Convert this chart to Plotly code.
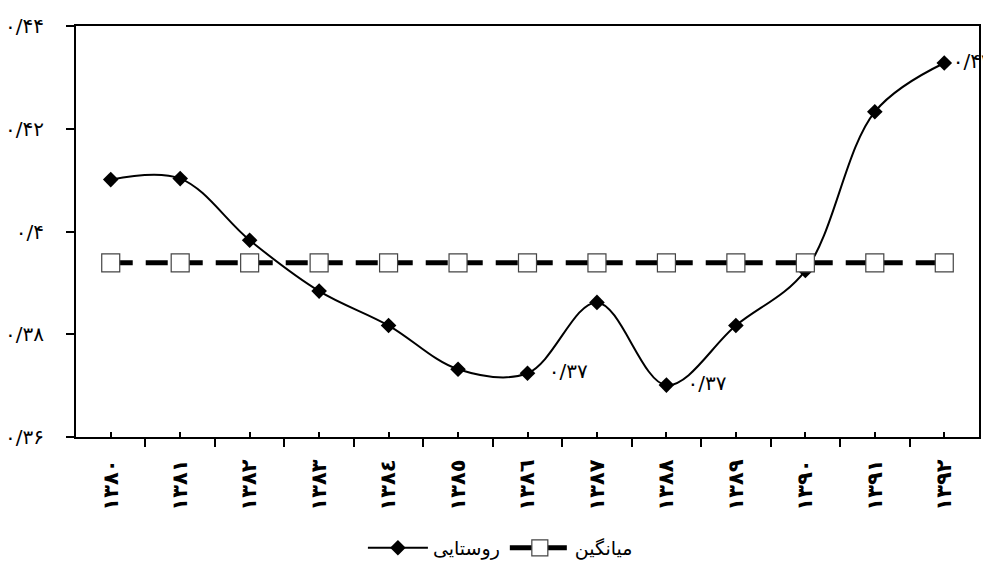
import plotly.graph_objects as go

# Data
years = ["١٣٨٠", "١٣٨١", "١٣٨٢", "١٣٨٣", "١٣٨٤", "١٣٨٥", "١٣٨٦",
         "١٣٨٧", "١٣٨٨", "١٣٨٩", "١٣٩٠", "١٣٩١", "١٣٩٢"]
rural = [0.4101, 0.4103, 0.3983, 0.3884, 0.3817, 0.3732, 0.3724,
         0.3862, 0.3701, 0.3817, 0.3924, 0.4233, 0.4328]
mean_vals = [0.3939] * 13
point_labels = ["", "", "", "", "", "", "۰/۳۷", "", "۰/۳۷", "", "", "", "۰/۴۳"]
label_pad = [0, 0, 0, 0, 0, 0, 2, 0, 2, 0, 0, 0, 0]
y_tickvals = [0.36, 0.38, 0.40, 0.42, 0.44]
y_ticktext = ["۰/۳۶", "۰/۳۸", "۰/۴", "۰/۴۲", "۰/۴۴"]
series_names = ["روستایی", "میانگین"]

xpos = list(range(len(years)))
texts = [("\u00a0" * p) + t for t, p in zip(point_labels, label_pad)]

fig = go.Figure()
fig.add_trace(go.Scatter(
    x=xpos, y=rural, name=series_names[0], mode="lines+markers+text",
    line=dict(color="black", width=2, shape="spline"),
    marker=dict(symbol="diamond", size=12, color="black"),
    text=texts, textposition="middle right",
    textfont=dict(family="DejaVu Sans", size=20, color="black"),
    cliponaxis=False,
))
fig.add_trace(go.Scatter(
    x=xpos, y=mean_vals, name=series_names[1], mode="lines+markers",
    line=dict(color="black", width=5, dash="22px,13px"),
    marker=dict(symbol="square", size=18, color="white",
                line=dict(color="#444444", width=1.2)),
))

fig.update_layout(
    width=983, height=565,
    margin=dict(l=76, r=4, t=26, b=128, autoexpand=False),
    paper_bgcolor="white", plot_bgcolor="white",
    font=dict(family="DejaVu Sans", color="black"),
    showlegend=True,
    legend=dict(orientation="h", x=0.47, xanchor="center", y=-0.27, yanchor="middle",
                font=dict(family="DejaVu Sans", size=19, color="black"),
                itemwidth=60),
)
fig.update_xaxes(
    range=[-0.5, 12.5], tickvals=xpos, ticktext=years, tickangle=-90,
    ticks="inside", ticklen=5, tickwidth=2, tickcolor="black",
    minor=dict(tick0=0.5, dtick=1, ticks="outside", ticklen=8, tickwidth=2, tickcolor="black"),
    showline=True, linecolor="black", linewidth=2, mirror=True,
    showgrid=False, zeroline=False, automargin=False,
    tickfont=dict(family="DejaVu Sans", size=21, color="black", weight="bold"),
    ticklabelstandoff=12,
)
fig.update_yaxes(
    range=[0.36, 0.44], tickvals=y_tickvals, ticktext=y_ticktext,
    ticks="outside", ticklen=8, tickwidth=2, tickcolor="black",
    showline=True, linecolor="black", linewidth=2, mirror=True,
    showgrid=False, zeroline=False, automargin=False,
    tickfont=dict(family="DejaVu Sans", size=20, color="black"),
    ticklabelstandoff=18,
)

fig.write_html("out.html")
